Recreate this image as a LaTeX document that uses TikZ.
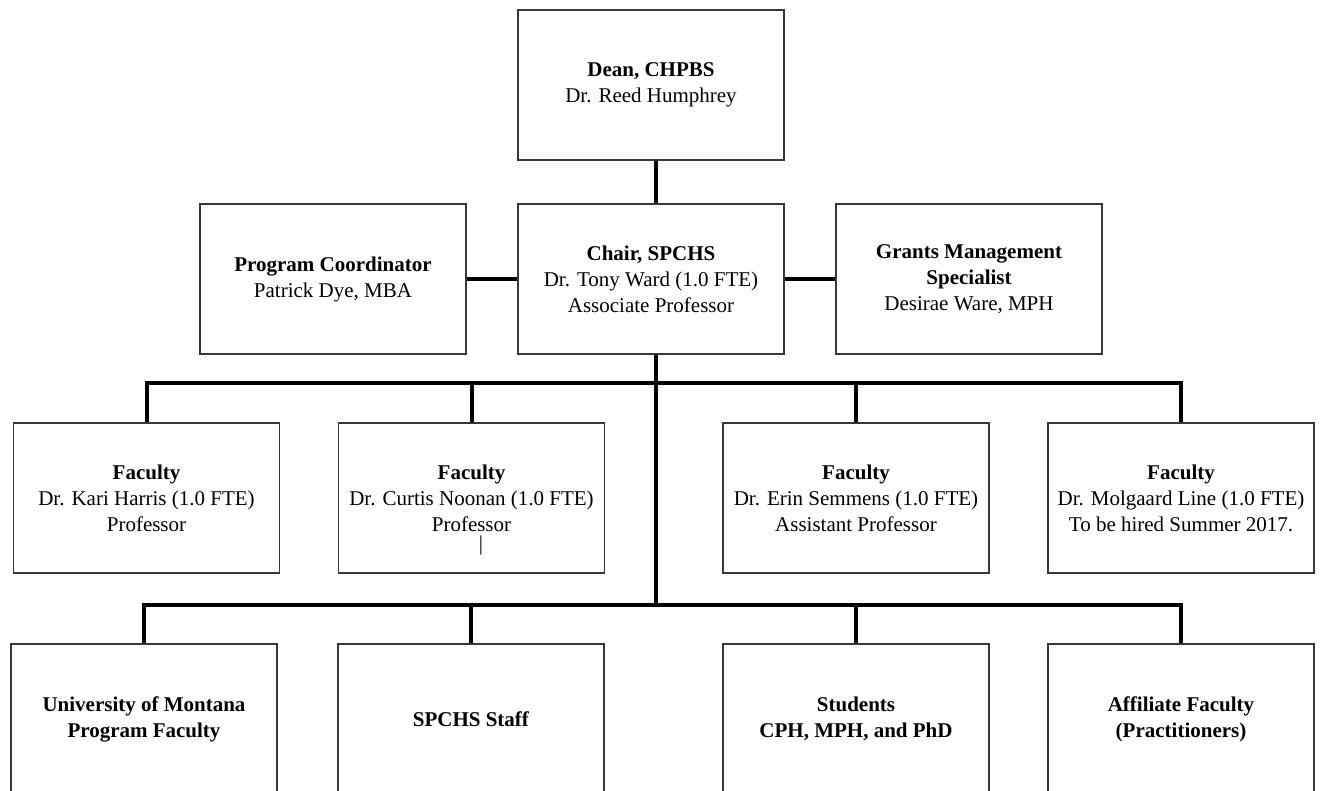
\documentclass[tikz,border=0pt]{standalone}
\usepackage{fontspec}
\setmainfont{Liberation Serif}
\begin{document}
\begin{tikzpicture}[x=1pt,y=-1pt,
  orgbox/.style={draw=black!78, line width=1.4pt, minimum width=266pt, minimum height=150pt,
    inner sep=0pt, align=center, font=\fontsize{21}{26}\selectfont},
  link/.style={line width=4pt, black, line join=miter}]
\useasboundingbox (0,0) rectangle (1321,791);
\clip (0,0) rectangle (1321,791);
% top levels
\node[orgbox] (dean) at (651,85) {\textbf{Dean, CHPBS}\\Dr. Reed Humphrey};
\node[orgbox] (chair) at (651,279) {\textbf{Chair, SPCHS}\\Dr. Tony Ward (1.0 FTE)\\Associate Professor};
\node[orgbox] (pc) at (333,279) {\textbf{Program Coordinator}\\Patrick Dye, MBA};
\node[orgbox] (grants) at (969,279) {\textbf{Grants Management}\\\textbf{Specialist}\\Desirae Ware, MPH};
% faculty row
\node[orgbox] (kari) at (146.5,498) {\textbf{Faculty}\\Dr. Kari Harris (1.0 FTE)\\Professor};
\node[orgbox] (curtis) at (471.5,498) {\textbf{Faculty}\\Dr. Curtis Noonan (1.0 FTE)\\Professor};
\node[font=\fontsize{21}{26}\selectfont, inner sep=0pt] (bar) at (481,545) {|};
\node[orgbox] (erin) at (856,498) {\textbf{Faculty}\\Dr. Erin Semmens (1.0 FTE)\\Assistant Professor};
\node[orgbox] (molg) at (1181,498) {\textbf{Faculty}\\Dr. Molgaard Line (1.0 FTE)\\To be hired Summer 2017.};
% bottom row
\node[orgbox] (um) at (144,719) {\textbf{University of Montana}\\\textbf{Program Faculty}};
\node[orgbox] (staff) at (471,719) {\textbf{SPCHS Staff}};
\node[orgbox] (students) at (856,719) {\textbf{Students}\\\textbf{CPH, MPH, and PhD}};
\node[orgbox] (affil) at (1181,719) {\textbf{Affiliate Faculty}\\\textbf{(Practitioners)}};
% connector coordinates
\coordinate (spine) at (656,0);
\coordinate (fbus) at (0,383);
\coordinate (bbus) at (0,605);
% connectors
\draw[link] (dean.south -| spine) -- (chair.north -| spine);
\draw[link] (pc.east) -- (chair.west);
\draw[link] (chair.east) -- (grants.west);
\draw[link] (chair.south -| spine) -- (spine |- bbus);
\draw[link] (kari.north) -- (kari.north |- fbus) -- (molg.north |- fbus) -- (molg.north);
\draw[link] (curtis.north |- fbus) -- (curtis.north);
\draw[link] (erin.north |- fbus) -- (erin.north);
\draw[link] (um.north) -- (um.north |- bbus) -- (affil.north |- bbus) -- (affil.north);
\draw[link] (staff.north |- bbus) -- (staff.north);
\draw[link] (students.north |- bbus) -- (students.north);
\end{tikzpicture}
\end{document}
